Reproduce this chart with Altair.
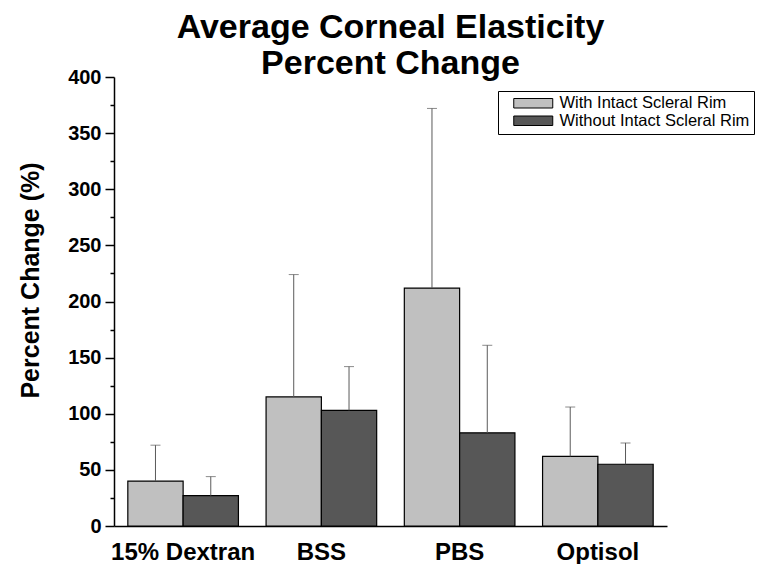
import altair as alt
import pandas as pd

categories = ["15% Dextran", "BSS", "PBS", "Optisol"]
series = ["With Intact Scleral Rim", "Without Intact Scleral Rim"]
with_rim_mean = [40, 115, 212, 62]
with_rim_upper = [72, 224, 372, 106]
without_rim_mean = [27, 103, 83, 55]
without_rim_upper = [44, 142, 161, 74]
major_ticks = [0, 50, 100, 150, 200, 250, 300, 350, 400]
minor_ticks = [25, 75, 125, 175, 225, 275, 325, 375]

rows = []
for i, c in enumerate(categories):
    rows.append(dict(cat=c, series=series[0], mean=with_rim_mean[i], upper=with_rim_upper[i]))
    rows.append(dict(cat=c, series=series[1], mean=without_rim_mean[i], upper=without_rim_upper[i]))
df = pd.DataFrame(rows)

FONT = "Liberation Sans"

xenc = alt.X(
    "cat:N", sort=categories,
    scale=alt.Scale(paddingInner=0.2, paddingOuter=0.1),
    axis=alt.Axis(title=None, labelAngle=0, labelFont=FONT, labelFontSize=24,
                  labelFontWeight="bold", labelColor="black", labelPadding=14,
                  ticks=False, domainColor="black", domainWidth=1.5),
)
xoff = alt.XOffset("series:N", sort=series, scale=alt.Scale(paddingInner=0, paddingOuter=0))
yscale = alt.Scale(domain=[0, 400], nice=False)

bars = alt.Chart(df).mark_bar(stroke="black", strokeWidth=1.2).encode(
    x=xenc, xOffset=xoff,
    y=alt.Y("mean:Q", scale=yscale,
            axis=alt.Axis(values=major_ticks, title="Percent Change (%)",
                          titleFont=FONT, titleFontSize=25, titleFontWeight="bold",
                          titleColor="black", titlePadding=24, titleY=203,
                          labelFont=FONT, labelFontSize=20, labelFontWeight="bold",
                          labelColor="black", labelPadding=4, tickSize=9,
                          tickColor="black", tickWidth=1.5, domainColor="black",
                          domainWidth=1.5, grid=False)),
    fill=alt.Fill("series:N", sort=series,
                  scale=alt.Scale(domain=series, range=["#c0c0c0", "#575757"]),
                  legend=alt.Legend(title=None, orient="none", legendX=384, legendY=14,
                                    strokeColor="black", fillColor="white", padding=4,
                                    symbolType="M-3.9,-0.95H3.9V0.95H-3.9Z", symbolSize=100,
                                    symbolStrokeColor="black", symbolStrokeWidth=1,
                                    symbolOffset=23, labelOffset=18, labelLimit=400,
                                    labelFont=FONT, labelFontSize=16.5, labelColor="black",
                                    rowPadding=0.5, cornerRadius=0)),
)

err = alt.Chart(df).mark_rule(color="#5a5a5a", strokeWidth=1).encode(
    x=xenc, xOffset=xoff, y=alt.Y("mean:Q", scale=yscale, axis=None), y2="upper:Q"
)
caps = alt.Chart(df).mark_tick(color="#5a5a5a", thickness=1, size=10).encode(
    x=xenc, xOffset=xoff, y=alt.Y("upper:Q", scale=yscale, axis=None)
)
minor = alt.Chart(df).mark_tick(opacity=0).encode(
    x=xenc, xOffset=xoff,
    y=alt.Y("mean:Q", scale=yscale,
            axis=alt.Axis(values=minor_ticks, labels=False, title=None, orient="left",
                          domain=False, tickSize=4, tickColor="black", tickWidth=1.5,
                          grid=False)),
)

chart = alt.layer(bars, err, caps, minor).resolve_axis(y="independent").properties(
    width=553, height=449,
    autosize=alt.AutoSizeParams(type="none"),
    padding={"left": 106, "top": 69, "right": 91, "bottom": 38},
    title=alt.TitleParams(["Average Corneal Elasticity", "Percent Change"],
                          font=FONT, fontSize=34, fontWeight="bold", color="black",
                          anchor="middle", lineHeight=36, offset=0, dy=14),
).configure_view(stroke=None)

chart.save("out.html", embed_options={"renderer": "svg", "actions": False})
